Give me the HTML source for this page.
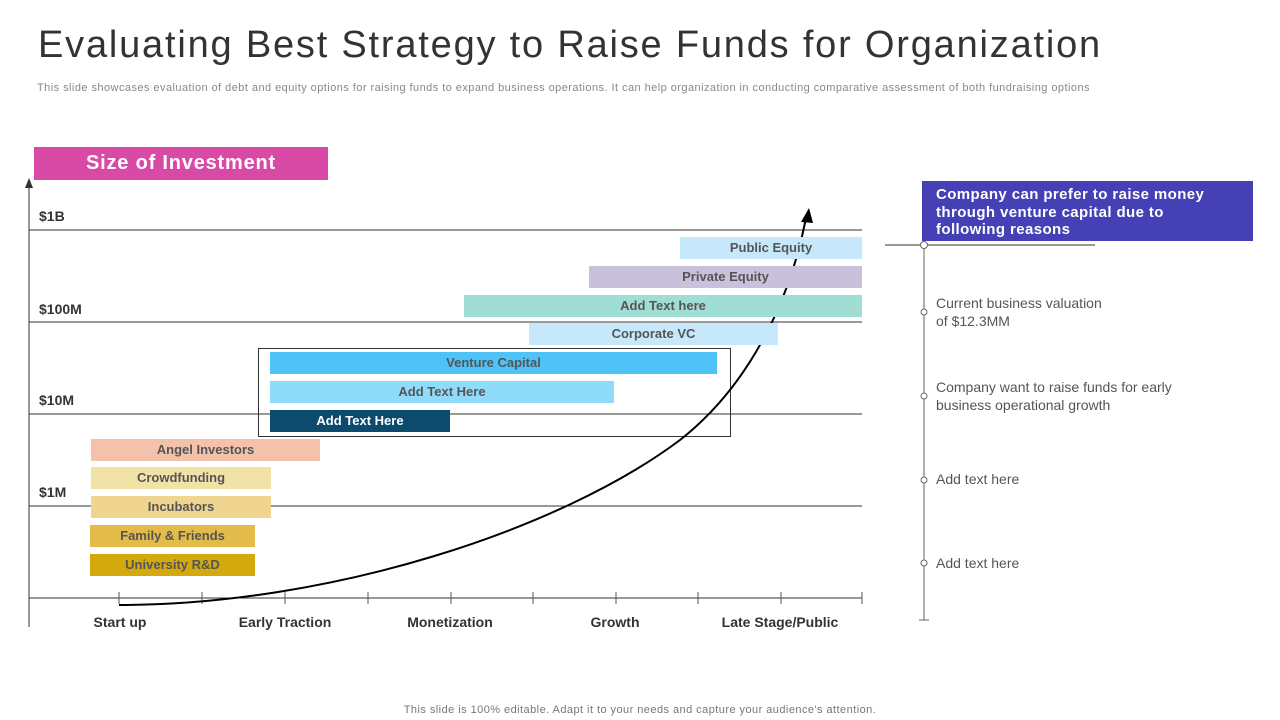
<!DOCTYPE html>
<html><head><meta charset="utf-8"><style>
body{margin:0;width:1280px;height:720px;background:#fff;font-family:"Liberation Sans",sans-serif;position:relative;overflow:hidden}
.a{position:absolute;white-space:nowrap}
.bar{position:absolute;height:22px;font-weight:bold;font-size:13px;color:#555;text-align:center;line-height:22px}
.yl{position:absolute;left:39px;font-weight:bold;font-size:14px;color:#333}
.xl{position:absolute;top:614px;font-weight:bold;font-size:14px;color:#333;width:200px;text-align:center}
.rt{position:absolute;left:936px;font-size:14px;color:#555;line-height:18px}
</style></head><body>
<div class="a" style="left:38px;top:24px;font-size:38px;color:#333;letter-spacing:1.8px">Evaluating Best Strategy to Raise Funds for Organization</div>
<div class="a" style="left:37px;top:82px;font-size:11px;color:#888;letter-spacing:0.45px">This slide showcases evaluation of debt and equity options for raising funds to expand business operations. It can help organization in conducting comparative assessment of both fundraising options</div>
<div class="a" style="left:34px;top:147px;width:294px;height:33px;background:#d94aa6;color:#fff;font-weight:bold;font-size:20px;letter-spacing:0.8px;text-align:center;line-height:33px">Size of Investment</div>
<svg class="a" style="left:0;top:0" width="1280" height="720">
<g stroke="#333" stroke-width="1" fill="none">
<line x1="29" y1="184" x2="29" y2="627"/>
<line x1="29" y1="230" x2="862" y2="230"/>
<line x1="29" y1="322" x2="862" y2="322"/>
<line x1="29" y1="414" x2="862" y2="414"/>
<line x1="29" y1="506" x2="862" y2="506"/>
<line x1="29" y1="598" x2="862" y2="598"/>
<g stroke="#555"><line x1="119" y1="592" x2="119" y2="604"/><line x1="202" y1="592" x2="202" y2="604"/><line x1="285" y1="592" x2="285" y2="604"/><line x1="368" y1="592" x2="368" y2="604"/><line x1="451" y1="592" x2="451" y2="604"/><line x1="533" y1="592" x2="533" y2="604"/><line x1="616" y1="592" x2="616" y2="604"/><line x1="698" y1="592" x2="698" y2="604"/><line x1="781" y1="592" x2="781" y2="604"/><line x1="862" y1="592" x2="862" y2="604"/></g>
<rect x="258.5" y="348.5" width="472" height="88"/>
<line x1="885" y1="245" x2="1095" y2="245"/>
<line x1="924" y1="245" x2="924" y2="620" stroke="#666"/>
<line x1="919" y1="620" x2="929" y2="620" stroke="#666"/>
<path d="M119 605 C330 605 560 530 680 440 C750 385 790 300 806 218" stroke="#000" stroke-width="2"/>
</g>
<polygon points="29,178 25,188 33,188" fill="#333"/>
<polygon points="809,208 801,222 813,223" fill="#000"/>
<g fill="#fff" stroke="#666"><circle cx="924" cy="245" r="3.5"/><circle cx="924" cy="312" r="3"/><circle cx="924" cy="396" r="3"/><circle cx="924" cy="480" r="3"/><circle cx="924" cy="563" r="3"/></g>
</svg>
<div class="yl" style="top:208px">$1B</div>
<div class="yl" style="top:301px">$100M</div>
<div class="yl" style="top:392px">$10M</div>
<div class="yl" style="top:484px">$1M</div>
<div class="bar" style="left:680px;top:237px;width:182px;background:#c6e8fa">Public Equity</div>
<div class="bar" style="left:589px;top:266px;width:273px;background:#c9c0dc">Private Equity</div>
<div class="bar" style="left:464px;top:295px;width:398px;background:#a0ddd5">Add Text here</div>
<div class="bar" style="left:529px;top:323px;width:249px;background:#c6e8fa">Corporate VC</div>
<div class="bar" style="left:270px;top:352px;width:447px;background:#4fc3f7">Venture Capital</div>
<div class="bar" style="left:270px;top:381px;width:344px;background:#8fdcfa">Add Text Here</div>
<div class="bar" style="left:270px;top:410px;width:180px;background:#0c4a6e;color:#fff">Add Text Here</div>
<div class="bar" style="left:91px;top:439px;width:229px;background:#f4c2aa">Angel Investors</div>
<div class="bar" style="left:91px;top:467px;width:180px;background:#f1e2a8">Crowdfunding</div>
<div class="bar" style="left:91px;top:496px;width:180px;background:#efd58f">Incubators</div>
<div class="bar" style="left:90px;top:525px;width:165px;background:#e2bb4a">Family &amp; Friends</div>
<div class="bar" style="left:90px;top:554px;width:165px;background:#d4a90e">University R&amp;D</div>
<div class="xl" style="left:20px">Start up</div>
<div class="xl" style="left:185px">Early Traction</div>
<div class="xl" style="left:350px">Monetization</div>
<div class="xl" style="left:515px">Growth</div>
<div class="xl" style="left:680px">Late Stage/Public</div>
<div class="a" style="left:922px;top:181px;height:60px;width:331px;padding:5px 20px 0 14px;background:#4540b5;color:#fff;font-weight:bold;font-size:15px;letter-spacing:0.4px;line-height:17.5px;white-space:normal;box-sizing:border-box">Company can prefer to raise money through venture capital due to following reasons</div>
<div class="rt" style="top:294px">Current business valuation<br>of $12.3MM</div>
<div class="rt" style="top:378px">Company want to raise funds for early<br>business operational growth</div>
<div class="rt" style="top:470px">Add text here</div>
<div class="rt" style="top:554px">Add text here</div>
<div class="a" style="left:0;width:1280px;text-align:center;top:704px;font-size:11px;color:#777;letter-spacing:0.45px">This slide is 100% editable. Adapt it to your needs and capture your audience's attention.</div>
</body></html>
